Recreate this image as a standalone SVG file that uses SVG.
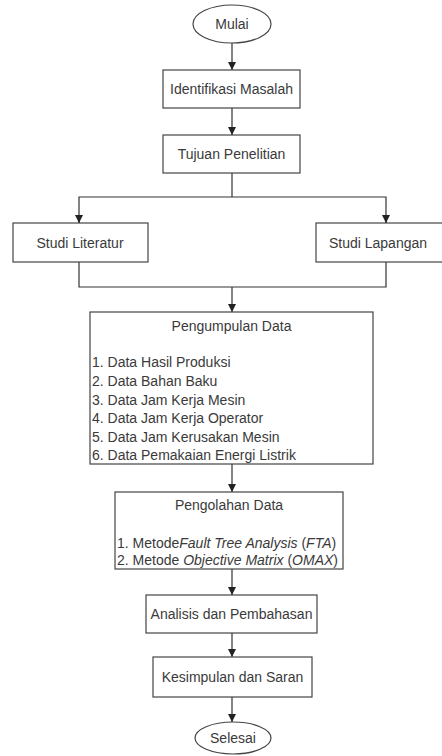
<svg xmlns="http://www.w3.org/2000/svg" width="442" height="756" viewBox="0 0 442 756">
<style>
.n{fill:#fff;stroke:#444;stroke-width:1.2}
.t{font-family:"Liberation Sans",Arial,sans-serif;font-size:14px;fill:#3a3a3a}
.c{text-anchor:middle}
.e{fill:none;stroke:#333;stroke-width:1.2}
</style>
<defs>
<marker id="ah" viewBox="0 0 10 10" refX="10" refY="5" markerWidth="8" markerHeight="8" markerUnits="userSpaceOnUse" orient="auto">
<path d="M0,0 L10,5 L0,10 z" fill="#222"/>
</marker>
</defs>
<rect width="442" height="756" fill="#fff"/>
<g id="connectors">
<line class="e" x1="232" y1="43" x2="232" y2="70" marker-end="url(#ah)"/>
<line class="e" x1="232" y1="108" x2="232" y2="135" marker-end="url(#ah)"/>
<polyline class="e" points="232,173 232,197"/>
<polyline class="e" points="79,223 79,197 386,197 386,223"/>
<line class="e" x1="79" y1="215" x2="79" y2="223" marker-end="url(#ah)"/>
<line class="e" x1="386" y1="215" x2="386" y2="223" marker-end="url(#ah)"/>
<polyline class="e" points="79,262 79,287 386,287 386,262"/>
<line class="e" x1="232" y1="287" x2="232" y2="312" marker-end="url(#ah)"/>
<line class="e" x1="232" y1="464" x2="232" y2="492" marker-end="url(#ah)"/>
<line class="e" x1="232" y1="569" x2="232" y2="595" marker-end="url(#ah)"/>
<line class="e" x1="232" y1="633" x2="232" y2="657" marker-end="url(#ah)"/>
<line class="e" x1="232" y1="697" x2="232" y2="722" marker-end="url(#ah)"/>
</g>
<g id="mulai">
<ellipse class="n" cx="232" cy="24" rx="39" ry="19"/>
<text class="t c" x="232" y="29">Mulai</text>
</g>
<g id="identifikasi">
<rect class="n" x="163" y="70" width="137" height="38"/>
<text class="t c" x="231.5" y="94">Identifikasi Masalah</text>
</g>
<g id="tujuan">
<rect class="n" x="163" y="135" width="137" height="38"/>
<text class="t c" x="231.5" y="159">Tujuan Penelitian</text>
</g>
<g id="literatur">
<rect class="n" x="13" y="223" width="135" height="39"/>
<text class="t c" x="80" y="247.5">Studi Literatur</text>
</g>
<g id="lapangan">
<rect class="n" x="316" y="223" width="130" height="39"/>
<text class="t c" x="378" y="247.5">Studi Lapangan</text>
</g>
<g id="pengumpulan">
<rect class="n" x="90" y="312" width="283" height="152"/>
<text class="t c" x="231.5" y="331">Pengumpulan Data</text>
<text class="t" x="92" y="367">1. Data Hasil Produksi</text>
<text class="t" x="92" y="386">2. Data Bahan Baku</text>
<text class="t" x="92" y="404.5">3. Data Jam Kerja Mesin</text>
<text class="t" x="92" y="423">4. Data Jam Kerja Operator</text>
<text class="t" x="92" y="441.5">5. Data Jam Kerusakan Mesin</text>
<text class="t" x="92" y="460">6. Data Pemakaian Energi Listrik</text>
</g>
<g id="pengolahan">
<rect class="n" x="115" y="492" width="228" height="77"/>
<text class="t c" x="229" y="510">Pengolahan Data</text>
<text class="t" x="117" y="548">1. Metode<tspan font-style="italic">Fault Tree Analysis</tspan> (<tspan font-style="italic">FTA</tspan>)</text>
<text class="t" x="117" y="565">2. Metode <tspan font-style="italic">Objective Matrix</tspan> (<tspan font-style="italic">OMAX</tspan>)</text>
</g>
<g id="analisis">
<rect class="n" x="146" y="595" width="171" height="38"/>
<text class="t c" x="231.5" y="619">Analisis dan Pembahasan</text>
</g>
<g id="kesimpulan">
<rect class="n" x="153" y="657" width="159" height="40"/>
<text class="t c" x="232.5" y="682">Kesimpulan dan Saran</text>
</g>
<g id="selesai">
<ellipse class="n" cx="233" cy="738" rx="38" ry="16"/>
<text class="t c" x="233" y="743">Selesai</text>
</g>
</svg>
